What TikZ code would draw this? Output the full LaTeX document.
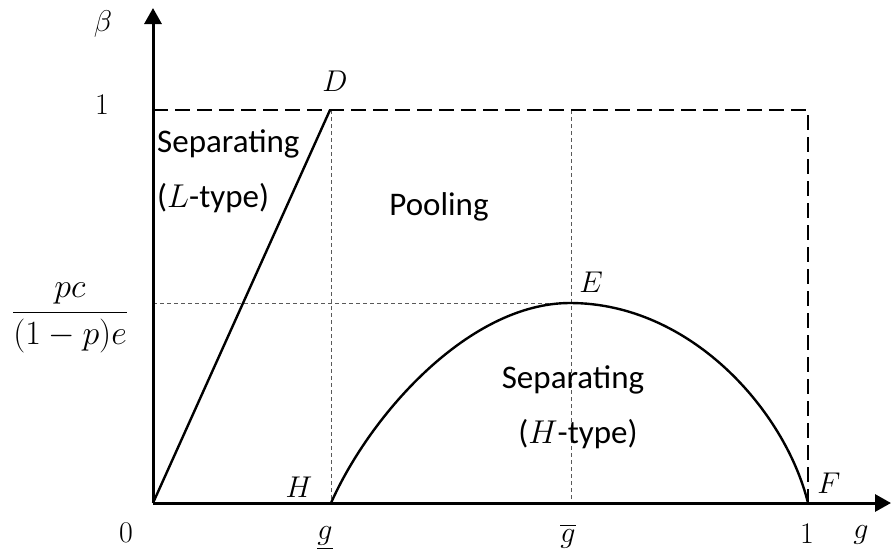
\RequirePackage{fix-cm}
\documentclass[tikz,border=0pt]{standalone}
\usepackage{amsmath}
\usepackage{fontspec}
\setmainfont{Carlito}
\usetikzlibrary{arrows.meta}
\begin{document}
\begin{tikzpicture}[x=1pt,y=-1pt,
  axis/.style={line width=3pt,-{Triangle[length=16pt,width=17pt]}},
  bigdash/.style={line width=2pt,dash pattern=on 15pt off 7pt},
  thindash/.style={line width=0.8pt,gray!70!black,dash pattern=on 4pt off 3pt},
  curve/.style={line width=2.4pt},
  lbl/.style={font=\fontsize{33}{36}\selectfont,inner sep=0pt},
  mlbl/.style={font=\fontsize{30}{33}\selectfont,inner sep=0pt}]
\useasboundingbox (0,0) rectangle (891,557);
\coordinate (O) at (153,503);
\coordinate (D) at (330,110);
\coordinate (T) at (808,110);
\coordinate (H) at (331,503);
\coordinate (E) at (570,303);
\coordinate (F) at (808,503);
\coordinate (Etop) at (571,110);
\coordinate (Eb) at (571,503);
\coordinate (Dtop) at (331,110);
\coordinate (Yl) at (153,303);
\coordinate (Ytop) at (153,110);
% thin guides
\draw[thindash] (Dtop) -- (H);
\draw[thindash] (Etop) -- (Eb);
\draw[thindash] (Yl) -- (E);
% big dashed box
\draw[bigdash] (Ytop) -- (T) -- (F);
% axes
\draw[axis] (O) -- (153,8) coordinate (Yend);
\draw[axis] (O) -- (891,503) coordinate (Xend);
% lines
\draw[curve] (O) -- (D);
\draw[curve] (H) .. controls (371,413) and (470,303) .. (E)
             .. controls (690,303) and (785,410) .. (F);
% labels
\node[mlbl] (beta) at (103,24) {$\beta$};
\node[mlbl] (one) at (102,105) {$1$};
\node[mlbl,font=\fontsize{34}{37}\selectfont] (frac) at (70,318) {$\dfrac{pc}{(1-p)e}$};
\node[mlbl] (zero) at (126,533) {$0$};
\node[mlbl] (gl) at (325,538) {$\underline{g}$};
\node[mlbl] (gb) at (568,536) {$\overline{g}$};
\node[mlbl] (onex) at (807,534) {$1$};
\node[mlbl] (gx) at (861,535) {$g$};
\node[mlbl] (Dl) at (335,81) {$D$};
\node[mlbl] (El) at (591,282) {$E$};
\node[mlbl] (Hl) at (299,487) {$H$};
\node[mlbl] (Fl) at (829,483) {$F$};
\node[lbl,anchor=base west] (s1) at (157,152) {Separating};
\node[lbl,anchor=base west] (s2) at (157,207) {($L$-type)};
\node[lbl,anchor=base] (pool) at (439,215) {Pooling};
\node[lbl,anchor=base] (s3) at (573,388) {Separating};
\node[lbl,anchor=base] (s4) at (578,443) {($H$-type)};
\end{tikzpicture}
\end{document}
